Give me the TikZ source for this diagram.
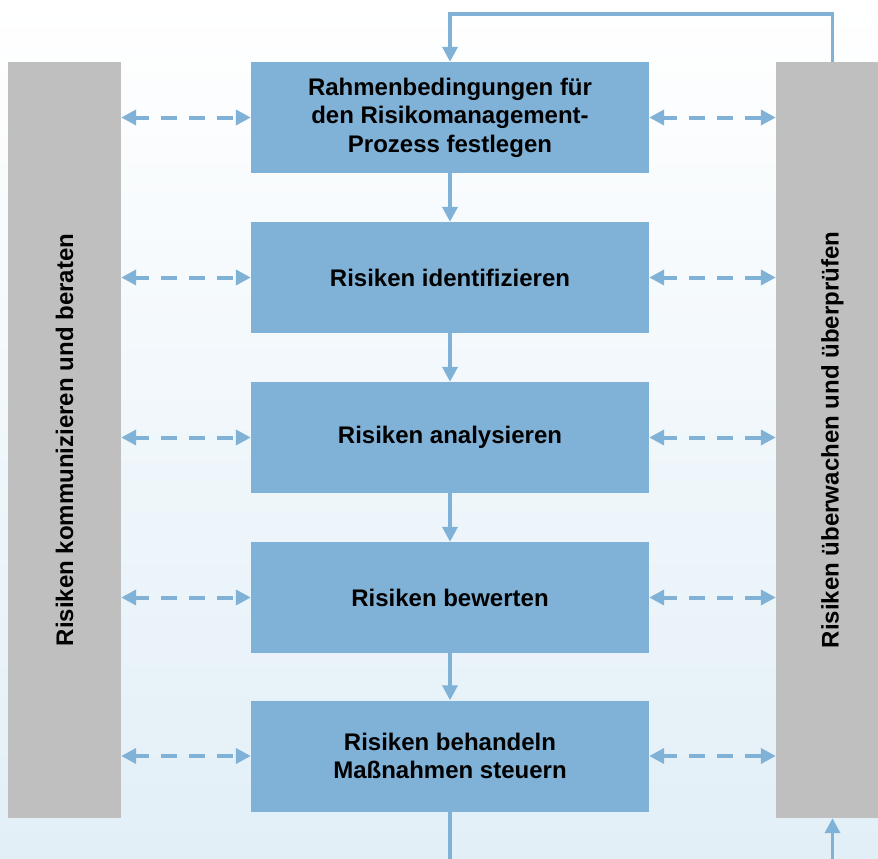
\documentclass[tikz,border=0pt]{standalone}
\usepackage{fontspec}
\setmainfont{Liberation Sans}
\usetikzlibrary{arrows.meta}
\definecolor{boxblue}{RGB}{128,178,216}
\definecolor{bargrey}{RGB}{191,191,191}
\definecolor{bgblue}{RGB}{226,239,247}
\tikzset{
  stepbox/.style={fill=boxblue, draw=none, minimum width=398pt, minimum height=111pt,
    inner sep=0pt, align=center, font=\fontsize{24pt}{28.5pt}\selectfont\bfseries},
  sidebar/.style={fill=bargrey, draw=none, minimum width=113pt, minimum height=756pt, inner sep=0pt},
  sidetext/.style={rotate=90, font=\fontsize{24pt}{28pt}\selectfont\bfseries},
  flow/.style={draw=boxblue, line width=3.5pt, -{Triangle[length=15pt,width=15pt]}},
  plainflow/.style={draw=boxblue, line width=3.5pt},
  exch/.style={draw=boxblue, line width=4pt, dash pattern=on 16pt off 12pt, dash phase=2pt,
    {Triangle[length=15pt,width=15pt]}-{Triangle[length=15pt,width=15pt]}}
}
\begin{document}
\begin{tikzpicture}[x=1pt,y=-1pt]
\useasboundingbox (0,0) rectangle (878,859);
\clip (0,0) rectangle (878,859);
\shade[top color=white, bottom color=bgblue] (0,0) rectangle (878,859);
\node[sidebar] (left) at (64.5,440) {};
\node[sidebar] (right) at (832.5,440) {};
\node[sidetext] (lefttext) at (64.5,440) {Risiken kommunizieren und beraten};
\node[sidetext] (righttext) at (832.5,440) {Risiken überwachen und überprüfen};
\node[stepbox] (b1) at (450,117.5) {Rahmenbedingungen für\\den Risikomanagement-\\Prozess festlegen};
\node[stepbox] (b2) at (450,277.5) {Risiken identifizieren};
\node[stepbox] (b3) at (450,437.5) {Risiken analysieren};
\node[stepbox] (b4) at (450,597.5) {Risiken bewerten};
\node[stepbox] (b5) at (450,756) {Risiken behandeln\\Maßnahmen steuern};
\draw[flow] (b1) -- (b2);
\draw[flow] (b2) -- (b3);
\draw[flow] (b3) -- (b4);
\draw[flow] (b4) -- (b5);
\foreach \b in {b1,b2,b3,b4,b5}{
  \draw[exch] (left.east |- \b.west) -- (\b.west);
  \draw[exch] (\b.east) -- (right.west |- \b.east);
}
\coordinate (fbA) at (450,870);
\coordinate (fbB) at (832.5,870);
\coordinate (fbTop) at (832.5,14);
\draw[plainflow] (b5.south) -- (fbA);
\draw[flow] (fbB) -- (right.south);
\draw[flow] (right.north) -- (fbTop) -| (b1.north);
\end{tikzpicture}
\end{document}
